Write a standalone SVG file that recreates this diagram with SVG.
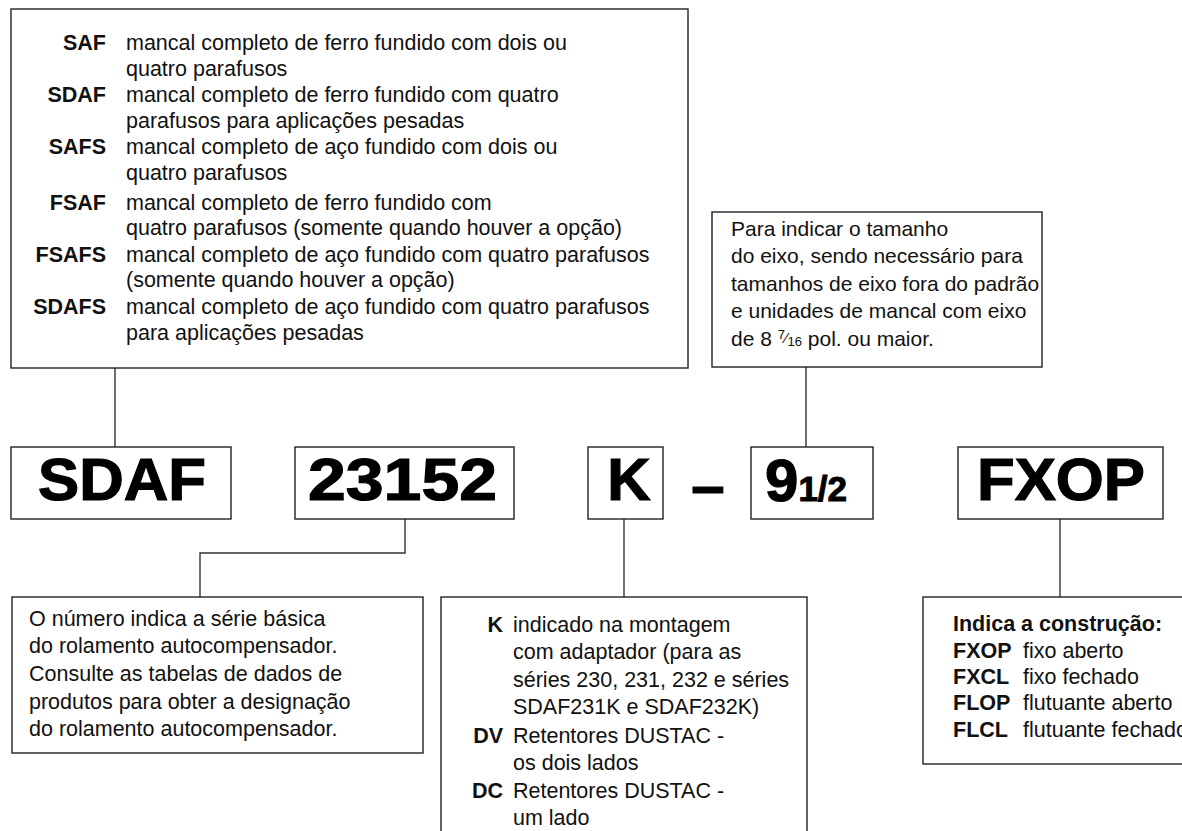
<svg xmlns="http://www.w3.org/2000/svg" width="1182" height="831" viewBox="0 0 1182 831">
<style>
.box{fill:#fff;stroke:#222;stroke-width:1.4}
.con{fill:none;stroke:#333;stroke-width:1.4}
.t{font-family:"Liberation Sans",Arial,sans-serif;font-size:21.5px;fill:#111}
.s{font-size:21px}
.b{font-weight:bold}
.big{font-family:"Liberation Sans",Arial,sans-serif;font-size:60px;font-weight:bold;fill:#000;stroke:#000;stroke-width:1.2}
</style>
<rect width="1182" height="831" fill="#fff"/>
<g id="connectors">
<path class="con" d="M115 368V447"/>
<path class="con" d="M405 519V553H200V597"/>
<path class="con" d="M624 519V597"/>
<path class="con" d="M806 367V447"/>
<path class="con" d="M1060 519V597"/>
</g>
<g id="types">
<rect class="box" x="11" y="9" width="677" height="359"/>
<g class="t">
<text x="106" y="50" text-anchor="end" class="b">SAF</text>
<text x="126" y="50">mancal completo de ferro fundido com dois ou</text>
<text x="126" y="76">quatro parafusos</text>
<text x="106" y="102" text-anchor="end" class="b">SDAF</text>
<text x="126" y="102">mancal completo de ferro fundido com quatro</text>
<text x="126" y="128">parafusos para aplicações pesadas</text>
<text x="106" y="154" text-anchor="end" class="b">SAFS</text>
<text x="126" y="154">mancal completo de aço fundido com dois ou</text>
<text x="126" y="180">quatro parafusos</text>
<text x="106" y="210" text-anchor="end" class="b">FSAF</text>
<text x="126" y="210">mancal completo de ferro fundido com</text>
<text x="126" y="235">quatro parafusos (somente quando houver a opção)</text>
<text x="106" y="262" text-anchor="end" class="b">FSAFS</text>
<text x="126" y="262">mancal completo de aço fundido com quatro parafusos</text>
<text x="126" y="287">(somente quando houver a opção)</text>
<text x="106" y="314" text-anchor="end" class="b">SDAFS</text>
<text x="126" y="314">mancal completo de aço fundido com quatro parafusos</text>
<text x="126" y="340">para aplicações pesadas</text>
</g>
</g>
<g id="shaft-note">
<rect class="box" x="712" y="212" width="330" height="155"/>
<g class="t s">
<text x="731" y="236">Para indicar o tamanho</text>
<text x="731" y="263">do eixo, sendo necessário para</text>
<text x="731" y="291">tamanhos de eixo fora do padrão</text>
<text x="731" y="318">e unidades de mancal com eixo</text>
<text x="731" y="346">de 8 <tspan font-size="13" dy="-7">7</tspan><tspan font-size="15" dy="4">⁄</tspan><tspan font-size="13" dy="3">16</tspan> pol. ou maior.</text>
</g>
</g>
<g id="sdaf">
<rect class="box" x="11" y="447" width="220" height="72"/>
<text class="big" x="122" y="500" text-anchor="middle" textLength="168" lengthAdjust="spacingAndGlyphs">SDAF</text>
</g>
<g id="n23152">
<rect class="box" x="295" y="447" width="219" height="72"/>
<text class="big" x="402.5" y="500" text-anchor="middle" textLength="189" lengthAdjust="spacingAndGlyphs">23152</text>
</g>
<g id="k">
<rect class="box" x="588" y="447" width="75" height="72"/>
<text class="big" x="629" y="500" text-anchor="middle">K</text>
</g>
<g id="dash">
<text class="big" x="708" y="506" text-anchor="middle" stroke-width="3">–</text>
</g>
<g id="size">
<rect class="box" x="751" y="447" width="122" height="72"/>
<text class="big" x="765" y="501">9<tspan font-size="35" stroke-width="1">1/2</tspan></text>
</g>
<g id="fxop">
<rect class="box" x="958" y="447" width="205" height="72"/>
<text class="big" x="1061" y="500" text-anchor="middle" textLength="168" lengthAdjust="spacingAndGlyphs">FXOP</text>
</g>
<g id="series-note">
<rect class="box" x="12" y="597" width="411" height="156"/>
<g class="t">
<text x="29" y="626">O número indica a série básica</text>
<text x="29" y="653">do rolamento autocompensador.</text>
<text x="29" y="681">Consulte as tabelas de dados de</text>
<text x="29" y="709">produtos para obter a designação</text>
<text x="29" y="736">do rolamento autocompensador.</text>
</g>
</g>
<g id="k-note">
<rect class="box" x="441" y="597" width="366" height="250"/>
<g class="t">
<text x="503" y="632" text-anchor="end" class="b">K</text>
<text x="513" y="632">indicado na montagem</text>
<text x="513" y="659">com adaptador (para as</text>
<text x="513" y="687">séries 230, 231, 232 e séries</text>
<text x="513" y="714">SDAF231K e SDAF232K)</text>
<text x="503" y="743" text-anchor="end" class="b">DV</text>
<text x="513" y="743">Retentores DUSTAC -</text>
<text x="513" y="770">os dois lados</text>
<text x="503" y="798" text-anchor="end" class="b">DC</text>
<text x="513" y="798">Retentores DUSTAC -</text>
<text x="513" y="825">um lado</text>
</g>
</g>
<g id="construction-note">
<rect class="box" x="923" y="597" width="280" height="167"/>
<g class="t">
<text x="953" y="631" class="b">Indica a construção:</text>
<text x="953" y="658" class="b">FXOP</text>
<text x="1023" y="658">fixo aberto</text>
<text x="953" y="684" class="b">FXCL</text>
<text x="1023" y="684">fixo fechado</text>
<text x="953" y="710" class="b">FLOP</text>
<text x="1023" y="710">flutuante aberto</text>
<text x="953" y="737" class="b">FLCL</text>
<text x="1023" y="737">flutuante fechado</text>
</g>
</g>
</svg>
